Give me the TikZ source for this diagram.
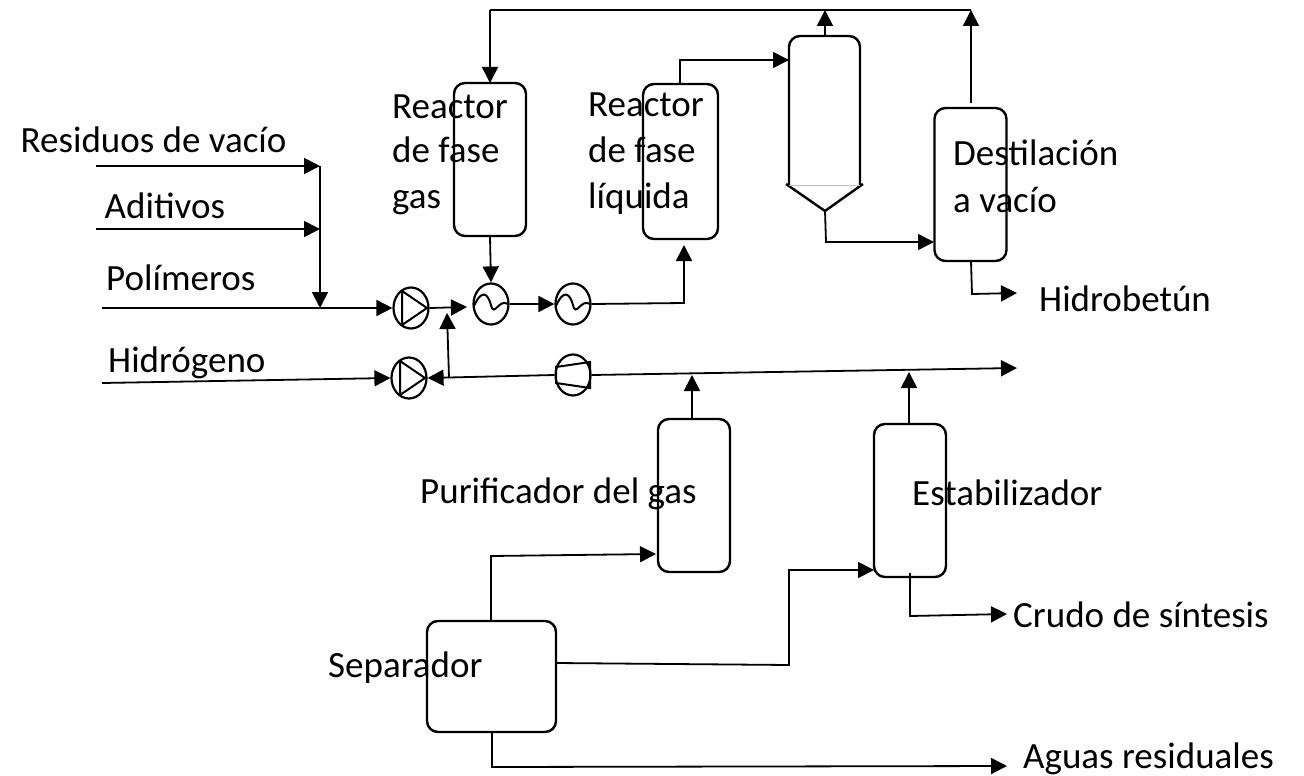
\documentclass[tikz,border=0pt]{standalone}
\usepackage{fontspec}
\setmainfont{Carlito}
\usetikzlibrary{arrows.meta,shapes.geometric}
\tikzset{
 x=1pt,y=-1pt,
 flow/.style={line width=1.8pt,line join=miter},
 arr/.style={flow,-{Triangle[length=16pt,width=16pt]}},
 vessel/.style={draw,line width=2.4pt,rounded corners=11pt,inner sep=0pt,fill=none},
 disc/.style={draw,line width=2.2pt,ellipse,minimum width=35pt,minimum height=41pt,inner sep=0pt},
 sym/.style={line width=2pt},
 lab/.style={anchor=base west,inner sep=0pt,font=\fontsize{37}{40}\selectfont}
}
\begin{document}
\begin{tikzpicture}
\useasboundingbox (0,0) rectangle (1304,776);
% vessels
\node[vessel,minimum width=72pt,minimum height=153pt] (r1) at (490,159.5) {};
\node[vessel,minimum width=75pt,minimum height=155pt] (r2) at (680.5,161.5) {};
\node[vessel,minimum width=72pt,minimum height=153pt] (dv) at (970.5,184.5) {};
\node[vessel,minimum width=72pt,minimum height=153pt] (pu) at (694,495.5) {};
\node[vessel,minimum width=72pt,minimum height=153pt] (es) at (910,500.5) {};
\node[vessel,minimum width=129pt,minimum height=111pt] (se) at (491.5,676.5) {};
% settler
\coordinate (v3l) at (789,185); \coordinate (v3r) at (860,185);
\coordinate (v3tip) at (825,211); \coordinate (v3top) at (825,36);
\draw[line width=2.4pt,rounded corners=11pt] (v3l) -- (789,36) -- (860,36) -- (v3r);
\draw[line width=2.4pt] (786,184) -- (v3tip) -- (863,184);
\draw[line width=.6pt,gray!50] (v3l) -- (v3r);
% rotating equipment
\node[disc] (p1) at (411,308) {};
\node[disc] (p2) at (409,378) {};
\node[disc] (h1) at (491,304) {};
\node[disc] (h2) at (573,304) {};
\node[disc] (co) at (573,375) {};
\draw[sym] (402,291) -- (402,325) (402,291) -- (427,308) -- (402,325);
\draw[sym] (400,361) -- (400,395) (400,361) -- (425,378) -- (400,395);
\draw[sym] (474,306) .. controls (482,288) and (488,294) .. (491,305) .. controls (494,318) and (499,298) .. (508,304);
\draw[sym] (556,306) .. controls (564,288) and (570,294) .. (573,305) .. controls (576,318) and (581,298) .. (590,304);
\draw[sym] (556,367) -- (590,362) -- (590,388) -- (556,383) -- cycle;
% free ends and junctions
\coordinate (a1) at (96,166); \coordinate (a1e) at (320,166);
\coordinate (a2) at (96,229); \coordinate (a2e) at (320,229);
\coordinate (a3) at (102,308); \coordinate (j3) at (320,308);
\coordinate (a4) at (102,383);
\coordinate (top1) at (490,10); \coordinate (top2) at (825,10); \coordinate (top3) at (971,10);
\coordinate (j4) at (449,378);
\coordinate (hin) at (467,307);
\coordinate (hg) at (1017,368);
\coordinate (hb) at (1017,293);
\coordinate (cs) at (1007,614);
\coordinate (ag) at (1007,766);
% connectors
\draw[arr] (a1) -- (a1e);
\draw[arr] (a2) -- (a2e);
\draw[arr] (a1e) -- (j3);
\draw[arr] (a3) -- (p1.west);
\draw[arr] (p1.east) -- (hin);
\draw[arr] (j4) -- (447,313);
\draw[arr] (r1.south) -- (h1.north);
\draw[arr] (h1.east) -- (h2.west);
\draw[arr] (h2.east) -- (684,303) -- (684,245);
\draw[arr] (680,84) -- (680,60) -- (789,60);
\draw[flow] (top3) -- (top1);
\draw[arr] (top1) -- (490,83);
\draw[arr] (v3top) -- (top2);
\draw[arr] (971,103) -- (top3);
\draw[arr] (v3tip) -- (826,242) -- (934,242);
\draw[arr] (971,261) -- (972,294) -- (hb);
\draw[arr] (a4) -- (p2.west);
\draw[arr] (co.west) -- (p2.east);
\draw[arr] (co.east) -- (hg);
\draw[arr] (692,419) -- (692,375);
\draw[arr] (909,424) -- (909,372);
\draw[arr] (910,573) -- (910,616) -- (cs);
\draw[arr] (491,621) -- (491,556) -- (656,554);
\draw[arr] (556,663) -- (789,665) -- (789,570) -- (874,570);
\draw[arr] (492,732) -- (492,767) -- (ag);
% labels
\node[lab] (t1) at (20.5,152) {Residuos de vacío};
\node[lab] (t2) at (104.5,218) {Aditivos};
\node[lab] (t3) at (106,290) {Polímeros};
\node[lab] (t4) at (108,372) {Hidrógeno};
\node[lab] (t5) at (392,118) {Reactor};
\node[lab] (t6) at (392,162) {de fase};
\node[lab] (t7) at (392,208) {gas};
\node[lab] (t8) at (588,116) {Reactor};
\node[lab] (t9) at (588,162) {de fase};
\node[lab] (t10) at (588,208) {líquida};
\node[lab] (t11) at (953,165) {Destilación};
\node[lab] (t12) at (953,212) {a vacío};
\node[lab] (t13) at (1039,311) {Hidrobetún};
\node[lab] (t14) at (420,503) {Purificador del gas};
\node[lab] (t15) at (912,505) {Estabilizador};
\node[lab] (t16) at (1013,627) {Crudo de síntesis};
\node[lab] (t17) at (328,677) {Separador};
\node[lab] (t18) at (1023,768) {Aguas residuales};
\end{tikzpicture}
\end{document}
